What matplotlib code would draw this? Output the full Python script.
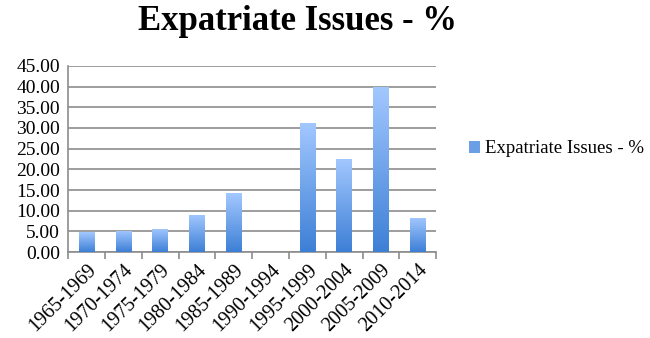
import numpy as np
import matplotlib.pyplot as plt
from matplotlib.colors import LinearSegmentedColormap
from matplotlib.patches import Patch

periods = ["1965-1969", "1970-1974", "1975-1979", "1980-1984", "1985-1989",
           "1990-1994", "1995-1999", "2000-2004", "2005-2009", "2010-2014"]
values = [4.8, 5.1, 5.6, 9.0, 14.2, 0.0, 31.2, 22.6, 39.9, 8.3]
y_ticks = [0, 5, 10, 15, 20, 25, 30, 35, 40, 45]
series_name = "Expatriate Issues - %"

plt.rcParams["font.family"] = ["Liberation Serif", "DejaVu Serif"]

fig = plt.figure(figsize=(6.5, 3.38), dpi=100)
ax = fig.add_axes([0.105, 0.254, 0.566, 0.551])

grad = LinearSegmentedColormap.from_list("bar", ["#3d7fd6", "#a3c8ff"])
x = np.arange(len(values))
width = 0.42
bars = ax.bar(x, values, width=width, color="none", edgecolor="none", zorder=3)
g = np.linspace(0, 1, 256).reshape(-1, 1)
for b in bars:
    h = b.get_height()
    if h <= 0:
        continue
    x0 = b.get_x()
    img = ax.imshow(g, cmap=grad, origin="lower", aspect="auto",
                    extent=[x0, x0 + b.get_width(), 0, h], zorder=3)
    img.set_clip_path(b)

ax.set_xlim(-0.5, len(values) - 0.5)
ax.set_ylim(0, 45)
ax.set_yticks(y_ticks)
ax.set_yticklabels([f"{v:.2f}" for v in y_ticks], fontsize=14)
ax.yaxis.grid(True, color="#8c8c8c", linewidth=1.2, zorder=0)
ax.tick_params(axis="y", length=0, pad=6)

ax.set_xticks(x)
ax.set_xticklabels(periods, rotation=45, ha="right", rotation_mode="anchor",
                   fontsize=14.5)
ax.tick_params(axis="x", length=0, pad=6)
ax.set_xticks(np.arange(-0.5, len(values)), minor=True)
ax.tick_params(axis="x", which="minor", length=5, color="#8c8c8c", width=1.2)

for s in ["top", "right"]:
    ax.spines[s].set_visible(False)
for s in ["left", "bottom"]:
    ax.spines[s].set_color("#8c8c8c")
    ax.spines[s].set_linewidth(1.2)

fig.suptitle(series_name, x=0.458, y=0.985, fontsize=25, fontweight="bold")

handle = Patch(facecolor="#6a9fe6", edgecolor="none")
fig.legend([handle], [series_name], loc="center left", bbox_to_anchor=(0.721, 0.56),
           frameon=False, fontsize=13.5, handlelength=0.6, handleheight=0.6,
           handletextpad=0.25, borderaxespad=0, borderpad=0)

fig.savefig("out.png", dpi=100)
